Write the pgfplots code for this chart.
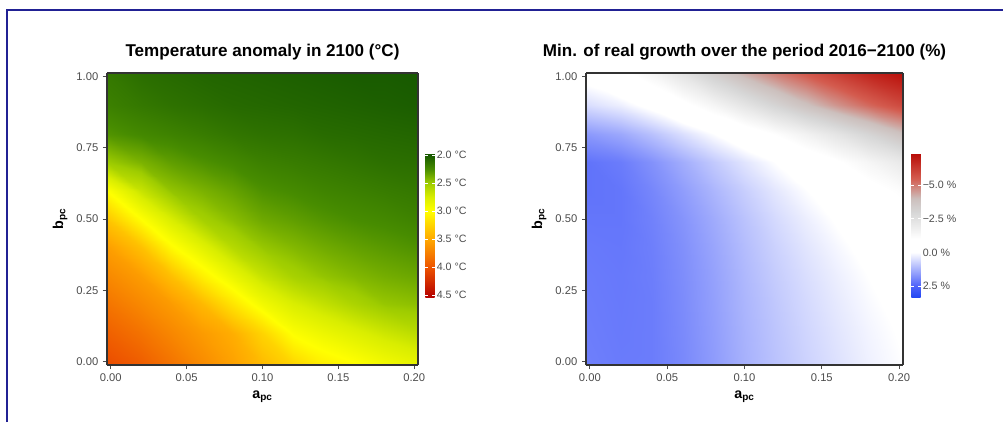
\documentclass[border=0pt]{standalone}
\usepackage{pgfplots}
\pgfplotsset{compat=1.18}
\usepackage{pgfplotstable}
\usepackage{fontspec}
\setmainfont{Liberation Sans}
\definecolor{framecol}{rgb}{0.13,0.13,0.58}
\definecolor{tickgrey}{gray}{0.30}

% Temperature anomaly in 2100 (deg C); x = a_pc, y = b_pc
\pgfplotstableread{
x y t
-0.0025 -0.0125 4.05
0.02 -0.0125 3.95
0.04 -0.0125 3.82
0.06 -0.0125 3.68
0.08 -0.0125 3.55
0.10 -0.0125 3.40
0.12 -0.0125 3.25
0.14 -0.0125 3.10
0.16 -0.0125 3.02
0.18 -0.0125 2.93
0.2025 -0.0125 2.85
-0.0025 0.1 3.93
0.02 0.1 3.82
0.04 0.1 3.70
0.06 0.1 3.58
0.08 0.1 3.47
0.10 0.1 3.25
0.12 0.1 2.98
0.14 0.1 2.88
0.16 0.1 2.79
0.18 0.1 2.70
0.2025 0.1 2.62
-0.0025 0.2 3.81
0.02 0.2 3.69
0.04 0.2 3.58
0.06 0.2 3.41
0.08 0.2 3.16
0.10 0.2 2.92
0.12 0.2 2.76
0.14 0.2 2.66
0.16 0.2 2.56
0.18 0.2 2.48
0.2025 0.2 2.45
-0.0025 0.3 3.69
0.02 0.3 3.57
0.04 0.3 3.37
0.06 0.3 3.09
0.08 0.3 2.87
0.10 0.3 2.67
0.12 0.3 2.54
0.14 0.3 2.47
0.16 0.3 2.42
0.18 0.3 2.38
0.2025 0.3 2.35
-0.0025 0.4 3.56
0.02 0.4 3.36
0.04 0.4 3.03
0.06 0.4 2.81
0.08 0.4 2.60
0.10 0.4 2.48
0.12 0.4 2.42
0.14 0.4 2.37
0.16 0.4 2.33
0.18 0.4 2.30
0.2025 0.4 2.27
-0.0025 0.5 3.33
0.02 0.5 3.00
0.04 0.5 2.75
0.06 0.5 2.53
0.08 0.5 2.44
0.10 0.5 2.36
0.12 0.5 2.32
0.14 0.5 2.28
0.16 0.5 2.25
0.18 0.5 2.23
0.2025 0.5 2.20
-0.0025 0.6 3.00
0.02 0.6 2.68
0.04 0.6 2.47
0.06 0.6 2.40
0.08 0.6 2.34
0.10 0.6 2.27
0.12 0.6 2.24
0.14 0.6 2.21
0.16 0.6 2.19
0.18 0.6 2.17
0.2025 0.6 2.15
-0.0025 0.7 2.50
0.02 0.7 2.40
0.04 0.7 2.32
0.06 0.7 2.27
0.08 0.7 2.23
0.10 0.7 2.19
0.12 0.7 2.17
0.14 0.7 2.15
0.16 0.7 2.13
0.18 0.7 2.11
0.2025 0.7 2.10
-0.0025 0.8 2.28
0.02 0.8 2.23
0.04 0.8 2.20
0.06 0.8 2.17
0.08 0.8 2.14
0.10 0.8 2.12
0.12 0.8 2.11
0.14 0.8 2.09
0.16 0.8 2.08
0.18 0.8 2.07
0.2025 0.8 2.06
-0.0025 0.9 2.19
0.02 0.9 2.15
0.04 0.9 2.12
0.06 0.9 2.10
0.08 0.9 2.08
0.10 0.9 2.07
0.12 0.9 2.06
0.14 0.9 2.05
0.16 0.9 2.04
0.18 0.9 2.03
0.2025 0.9 2.02
-0.0025 1.0125 2.15
0.02 1.0125 2.10
0.04 1.0125 2.08
0.06 1.0125 2.06
0.08 1.0125 2.05
0.10 1.0125 2.04
0.12 1.0125 2.03
0.14 1.0125 2.02
0.16 1.0125 2.01
0.18 1.0125 2.01
0.2025 1.0125 2.00
}\temptable

% Min. of real growth over 2016-2100 (%)
\pgfplotstableread{
x y g
-0.0025 -0.0125 2.05
0.02 -0.0125 2.12
0.04 -0.0125 2.10
0.06 -0.0125 1.90
0.08 -0.0125 1.60
0.10 -0.0125 1.25
0.12 -0.0125 0.98
0.14 -0.0125 0.72
0.16 -0.0125 0.48
0.18 -0.0125 0.24
0.2025 -0.0125 0.02
-0.0025 0.1 2.08
0.02 0.1 2.14
0.04 0.1 2.10
0.06 0.1 1.88
0.08 0.1 1.57
0.10 0.1 1.22
0.12 0.1 0.94
0.14 0.1 0.67
0.16 0.1 0.42
0.18 0.1 0.18
0.2025 0.1 -0.05
-0.0025 0.2 2.10
0.02 0.2 2.15
0.04 0.2 2.10
0.06 0.2 1.86
0.08 0.2 1.54
0.10 0.2 1.18
0.12 0.2 0.89
0.14 0.2 0.61
0.16 0.2 0.35
0.18 0.2 0.10
0.2025 0.2 -0.15
-0.0025 0.3 2.12
0.02 0.3 2.16
0.04 0.3 2.08
0.06 0.3 1.83
0.08 0.3 1.50
0.10 0.3 1.13
0.12 0.3 0.82
0.14 0.3 0.53
0.16 0.3 0.26
0.18 0.3 0.00
0.2025 0.3 -0.28
-0.0025 0.4 2.15
0.02 0.4 2.18
0.04 0.4 2.06
0.06 0.4 1.79
0.08 0.4 1.44
0.10 0.4 1.06
0.12 0.4 0.73
0.14 0.4 0.42
0.16 0.4 0.13
0.18 0.4 -0.16
0.2025 0.4 -0.45
-0.0025 0.5 2.20
0.02 0.5 2.20
0.04 0.5 2.02
0.06 0.5 1.72
0.08 0.5 1.35
0.10 0.5 0.96
0.12 0.5 0.60
0.14 0.5 0.27
0.16 0.5 -0.05
0.18 0.5 -0.38
0.2025 0.5 -0.72
-0.0025 0.6 2.25
0.02 0.6 2.20
0.04 0.6 1.94
0.06 0.6 1.58
0.08 0.6 1.18
0.10 0.6 0.78
0.12 0.6 0.40
0.14 0.6 0.03
0.16 0.6 -0.33
0.18 0.6 -0.72
0.2025 0.6 -1.15
-0.0025 0.7 2.25
0.02 0.7 2.10
0.04 0.7 1.76
0.06 0.7 1.32
0.08 0.7 0.86
0.10 0.7 0.42
0.12 0.7 0.00
0.14 0.7 -0.45
0.16 0.7 -0.92
0.18 0.7 -1.45
0.2025 0.7 -2.10
-0.0025 0.8 1.65
0.02 0.8 1.40
0.04 0.8 1.00
0.06 0.8 0.52
0.08 0.8 0.02
0.10 0.8 -0.50
0.12 0.8 -1.05
0.14 0.8 -1.65
0.16 0.8 -2.30
0.18 0.8 -3.05
0.2025 0.8 -3.90
-0.0025 0.9 0.55
0.02 0.9 0.25
0.04 0.9 -0.20
0.06 0.9 -0.80
0.08 0.9 -1.50
0.10 0.9 -2.30
0.12 0.9 -3.10
0.14 0.9 -3.90
0.16 0.9 -4.65
0.18 0.9 -5.30
0.2025 0.9 -5.95
-0.0025 1.0125 -0.30
0.02 1.0125 -0.80
0.04 1.0125 -1.50
0.06 1.0125 -2.40
0.08 1.0125 -3.40
0.10 1.0125 -4.30
0.12 1.0125 -5.00
0.14 1.0125 -5.60
0.16 1.0125 -6.20
0.18 1.0125 -6.80
0.2025 1.0125 -7.30
}\growtable

\pgfplotsset{
  colormap={temp}{rgb(0pt)=(0.70,0,0); rgb(10pt)=(0.72,0.02,0); rgb(110pt)=(0.93,0.33,0); rgb(210pt)=(1,0.66,0); rgb(310pt)=(1,1,0); rgb(360pt)=(0.85,0.93,0); rgb(410pt)=(0.62,0.80,0); rgb(460pt)=(0.28,0.55,0); rgb(510pt)=(0.09,0.35,0); rgb(517pt)=(0.08,0.33,0)},
  colormap={grow}{rgb(0pt)=(0.12,0.27,0.95); rgb(9pt)=(0.31,0.39,0.98); rgb(34pt)=(1,1,1); rgb(44pt)=(1,1,1); rgb(64pt)=(0.84,0.84,0.84); rgb(74pt)=(0.80,0.75,0.74); rgb(89pt)=(0.83,0.36,0.31); rgb(108pt)=(0.72,0.04,0.02)},
  heatbase/.style={
    scale only axis, anchor=south west, height=219pt,
    view={0}{90}, axis on top,
    xmin=-0.0025, xmax=0.2025, ymin=-0.0125, ymax=1.0125,
    xtick={0,0.05,0.1,0.15,0.2}, xticklabels={0.00,0.05,0.10,0.15,0.20},
    ytick={0,0.25,0.5,0.75,1}, yticklabels={0.00,0.25,0.50,0.75,1.00},
    tick align=outside, tick pos=left, major tick length=3pt,
    tick style={color=tickgrey, line width=0.6pt},
    ticklabel style={font=\fontsize{8.4}{9}\selectfont, color=tickgrey},
    axis line style={color=black!80, line width=0.8pt},
    xlabel={\textbf{a\textsubscript{pc}}},
    ylabel={\textbf{b\textsubscript{pc}}},
    label style={font=\fontsize{10.7}{12}\selectfont},
    title style={font=\fontsize{12.8}{14}\selectfont\bfseries},
    colorbar,
  },
  cbbase/.style={
    at={(parent axis.north east)}, anchor=north west,
    yshift=-60pt, width=7pt, height=108.75pt,
    axis line style={draw=none},
    tick align=inside, ytick pos=both, yticklabel pos=right,
    major tick length=1.8pt,
    tick style={color=white, line width=0.6pt},
    yticklabel style={font=\fontsize{8}{9}\selectfont, color=tickgrey, xshift=-2pt},
  },
}

\begin{document}
\begin{tikzpicture}
\useasboundingbox (0pt,0pt) rectangle (752.25pt,316.5pt);
\draw[framecol, line width=1.5pt] (5.25pt,0pt) -- (5.25pt,309pt) -- (760pt,309pt);

\begin{axis}[heatbase,
  at={(80.25pt,42.75pt)}, width=233.25pt,
  title={Temperature anomaly in 2100 (°C)},
  colormap name=temp,
  point meta min=-4.55, point meta max=-1.965,
  colorbar style={cbbase, xshift=-3pt,
    ytick={-4.5,-4,-3.5,-3,-2.5,-2},
    yticklabels={4.5 °C,4.0 °C,3.5 °C,3.0 °C,2.5 °C,2.0 °C}},
]
\addplot3[surf, shader=interp, mesh/rows=11, mesh/cols=11, point meta={-\thisrow{t}}] table[x=x, y=y, z=t] {\temptable};
\end{axis}

\begin{axis}[heatbase,
  at={(439.5pt,42.75pt)}, width=237.75pt,
  title={Min. of real growth over the period 2016−2100 (\%)},
  colormap name=grow,
  point meta min=-3.4, point meta max=7.4,
  colorbar style={cbbase, xshift=-2.25pt,
    ytick={-2.5,0,2.5,5},
    yticklabels={2.5 \%,0.0 \%,−2.5 \%,−5.0 \%}},
]
\addplot3[surf, shader=interp, mesh/rows=11, mesh/cols=11, point meta={-\thisrow{g}}] table[x=x, y=y, z=g] {\growtable};
\end{axis}
\end{tikzpicture}
\end{document}
